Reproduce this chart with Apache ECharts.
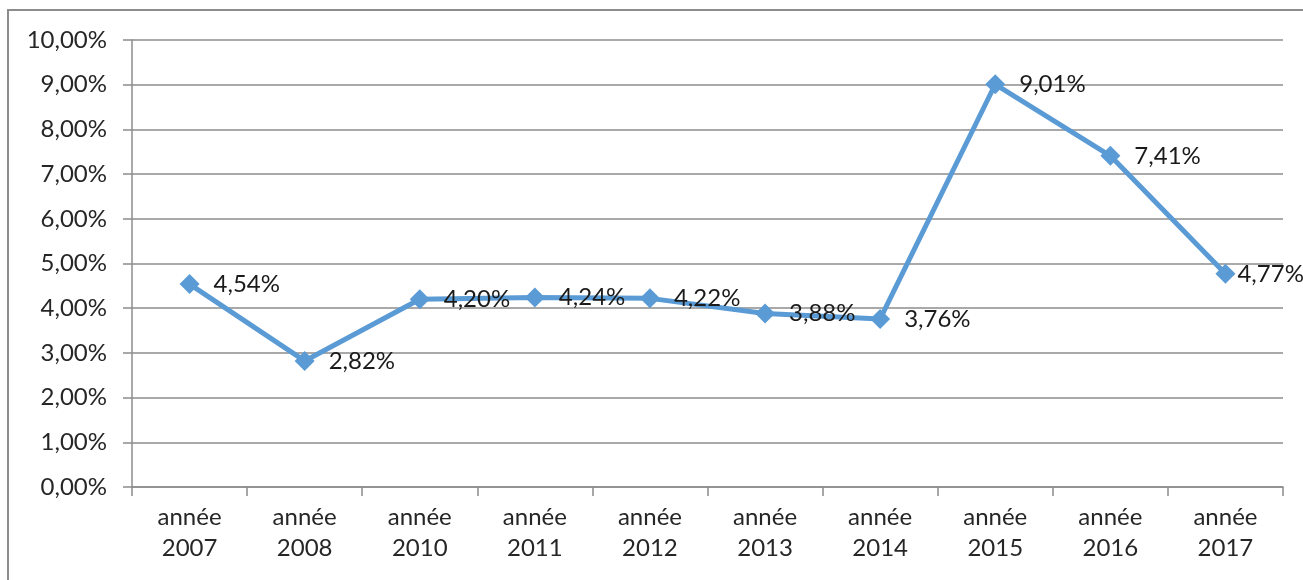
<!DOCTYPE html>
<html><head><meta charset="utf-8">
<script src="https://cdn.jsdelivr.net/npm/echarts@6/dist/echarts.min.js"></script>
<style>html,body{margin:0;padding:0;background:#fff}#c{width:1303px;height:580px}</style>
</head><body><div id="c"></div>
<script>
var categories = ['année\n2007','année\n2008','année\n2010','année\n2011','année\n2012','année\n2013','année\n2014','année\n2015','année\n2016','année\n2017'];
var values = [4.54, 2.82, 4.20, 4.24, 4.22, 3.88, 3.76, 9.01, 7.41, 4.77];
var yMin = 0, yMax = 10, yStep = 1;
function fmt(v){ return v.toFixed(2).replace('.', ',') + '%'; }
var seriesData = values.map(function(v, i){
  return i === values.length - 1 ? {value: v, label: {distance: 2}} : v;
});
var chart = echarts.init(document.getElementById('c'));
chart.setOption({
  animation: false,
  textStyle: {fontFamily: 'Lato'},
  graphic: [{type:'rect', shape:{x:8, y:10, width:1310, height:590}, style:{fill:'none', stroke:'#8c8c8c', lineWidth:2}, silent:true}],
  grid: {left:132, right:20, top:40, bottom:93},
  xAxis: {
    type:'category', data: categories, boundaryGap:true,
    axisLine:{lineStyle:{color:'#8c8c8c', width:1.5}},
    axisTick:{show:true, length:9, lineStyle:{color:'#8c8c8c', width:1.5}, alignWithLabel:false},
    axisLabel:{color:'#262626', fontSize:24, lineHeight:31, margin:15, fontFamily:'Lato', interval:0}
  },
  yAxis: {
    type:'value', min:yMin, max:yMax, interval:yStep,
    axisLine:{show:true, lineStyle:{color:'#8c8c8c', width:1.5}},
    axisTick:{show:true, length:9, lineStyle:{color:'#8c8c8c', width:1.5}},
    splitLine:{lineStyle:{color:'#8c8c8c', width:1.5}},
    axisLabel:{color:'#262626', fontSize:24, margin:25, fontFamily:'Lato', formatter:function(v){return fmt(v);}}
  },
  series: [{
    type:'line', data: seriesData,
    lineStyle:{color:'#5b9bd5', width:5},
    itemStyle:{color:'#5b9bd5'},
    symbol:'diamond', symbolSize:20,
    label:{show:true, position:'right', distance:14, color:'#1a1a1a', fontSize:24, fontFamily:'Lato', formatter:function(p){return fmt(p.value);}}
  }]
});
</script></body></html>
